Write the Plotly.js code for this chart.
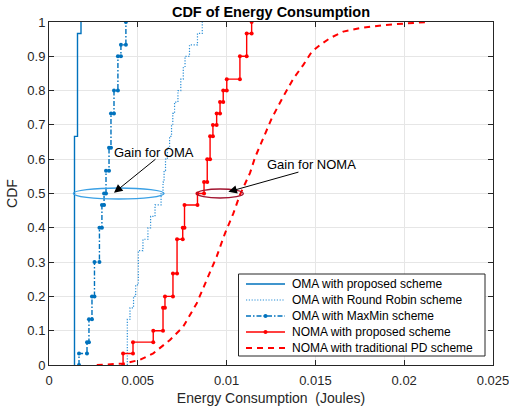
<!DOCTYPE html>
<html><head><meta charset="utf-8">
<script src="https://cdn.plot.ly/plotly-3.0.1.min.js"></script>
<style>html,body{margin:0;padding:0;background:#fff;}#chart{width:509px;height:411px;}</style>
</head><body><div id="chart"></div>
<script>
// ---- data ----
const nSamples = 30;
const seriesNames = ['OMA with proposed scheme','OMA with Round Robin scheme','OMA with MaxMin scheme','NOMA with proposed scheme','NOMA with traditional PD scheme'];
const omaPropX = [0.001436, 0.001605, 0.001802];
const omaPropN = [20, 29, 30];
const rrX = [0.00441,0.00456,0.00476,0.00488,0.00503,0.00529,0.00557,0.00572,0.00597,0.00631,0.00642,0.00648,0.00656,0.00667,0.00679,0.00690,0.00697,0.00707,0.00726,0.00742,0.00756,0.00766,0.00791,0.00836,0.00863];
const rrN = [4,5,6,7,10,11,12,13,14,15,16,17,18,19,20,21,22,23,24,25,26,27,28,29,30];
const mmX = [0.00169,0.00214,0.00225,0.00242,0.00256,0.00284,0.00298,0.00310,0.00321,0.00338,0.00349,0.00366,0.00388,0.00405,0.00433];
const mmN = [1,2,4,6,9,12,14,15,17,19,22,24,27,28,30];
const npX = [0.00417,0.00473,0.00587,0.00642,0.00653,0.00698,0.00721,0.00753,0.00763,0.00836,0.00873,0.00891,0.00907,0.00923,0.00944,0.00963,0.00981,0.01001,0.01075,0.01113,0.01141];
const npN = [1,2,3,5,6,8,11,12,14,15,16,18,20,21,22,23,24,25,27,29,30];
const pdX = [0.00269,0.00343,0.00418,0.00512,0.00587,0.00681,0.00756,0.00832,0.00888,0.00944,0.00991,0.01038,0.01075,0.01132,0.0116,0.01207,0.01254,0.01312,0.01376,0.01432,0.01479,0.01526,0.01582,0.01657,0.01751,0.01882,0.0200,0.02127];
const pdY = [0,0.002,0.004,0.015,0.034,0.073,0.112,0.18,0.248,0.316,0.384,0.442,0.496,0.56,0.605,0.662,0.719,0.776,0.835,0.875,0.913,0.933,0.953,0.972,0.982,0.991,0.996,1.0];
const xTicks = [0,0.005,0.01,0.015,0.02,0.025];
const xTickLabels = ['0','0.005','0.01','0.015','0.02','0.025'];
const yTicks = [0,0.1,0.2,0.3,0.4,0.5,0.6,0.7,0.8,0.9,1];
const yTickLabels = ['0','0.1','0.2','0.3','0.4','0.5','0.6','0.7','0.8','0.9','1'];

// build empirical-CDF staircase from jump positions and cumulative counts
function stairs(xs, counts){
  const X=[xs[0]], Y=[0];
  for(let i=0;i<xs.length;i++){
    const f=counts[i]/nSamples;
    X.push(xs[i]); Y.push(f);
    if(i+1<xs.length){ X.push(xs[i+1]); Y.push(f); }
  }
  return {x:X,y:Y};
}
const FONT='Liberation Sans, Arial, Helvetica, sans-serif';
const blue='#0072BD', red='#FF0000';
const styles=[
 {line:{color:blue,width:1.4},marker:false},
 {line:{color:'#2B8FD6',width:1.2,dash:'1.2px,1.6px'},marker:false},
 {line:{color:blue,width:1.4,dash:'5px,2px,1.5px,2px'},marker:true},
 {line:{color:red,width:1.4},marker:true},
 {line:{color:red,width:2,dash:'6px,5px'},marker:false}
];
const s1=stairs(omaPropX,omaPropN), s2=stairs(rrX,rrN), s3=stairs(mmX,mmN), s4=stairs(npX,npN);
const series=[s1,s2,s3,s4,{x:pdX,y:pdY}];
const traces=series.map((s,i)=>({x:s.x,y:s.y,mode:styles[i].marker?'lines+markers':'lines',name:seriesNames[i],
  line:styles[i].line,marker:{color:styles[i].line.color,size:4},showlegend:false}));

// custom legend box (paper coordinates of the plot area)
const W=444,H=343;
const legLeft=(238.5-49)/W, legRight=(485-49)/W, legTop=(365-274)/H, legBot=(365-356)/H;
const rowH=16/H, firstRow=(365-284)/H;
const sampX0=(246-49)/W, sampX1=(285-49)/W, textX=(290-49)/W;
const shapes=[
  {type:'circle',xref:'x',yref:'y',x0:0.00137,x1:0.00648,y0:0.484,y1:0.516,line:{color:'#3AA0E5',width:1.4}},
  {type:'circle',xref:'x',yref:'y',x0:0.00832,x1:0.01094,y0:0.487,y1:0.513,line:{color:'#A2142F',width:1.4}},
  {type:'rect',xref:'paper',yref:'paper',x0:legLeft,x1:legRight,y0:legBot,y1:legTop,fillcolor:'#fff',line:{color:'#262626',width:1}}
];
const annotations=[
  {x:0.00366,y:0.502,ax:0.00608,ay:0.6035,axref:'x',ayref:'y',xref:'x',yref:'y',text:'',showarrow:true,arrowhead:2,arrowsize:1.7,arrowwidth:1,arrowcolor:'#000'},
  {x:0.0101,y:0.505,ax:0.01413,ay:0.5636,axref:'x',ayref:'y',xref:'x',yref:'y',text:'',showarrow:true,arrowhead:2,arrowsize:1.7,arrowwidth:1,arrowcolor:'#000'},
  {x:0.00591,y:0.621,xref:'x',yref:'y',text:'Gain for OMA',showarrow:false,font:{size:13,color:'#000',family:FONT}},
  {x:0.01478,y:0.586,xref:'x',yref:'y',text:'Gain for NOMA',showarrow:false,font:{size:13,color:'#000',family:FONT}}
];
seriesNames.forEach((nm,i)=>{
  const yy=firstRow-i*rowH;
  shapes.push({type:'line',xref:'paper',yref:'paper',x0:sampX0,x1:sampX1,y0:yy,y1:yy,line:styles[i].line});
  if(styles[i].marker){
    const cx=(sampX0+sampX1)/2, rx=2/W, ry=2/H;
    shapes.push({type:'circle',xref:'paper',yref:'paper',x0:cx-rx,x1:cx+rx,y0:yy-ry,y1:yy+ry,fillcolor:styles[i].line.color,line:{width:0}});
  }
  annotations.push({x:textX,y:yy,xref:'paper',yref:'paper',xanchor:'left',yanchor:'middle',text:nm,showarrow:false,font:{size:12,color:'#000',family:FONT}});
});

const axisCommon={ticks:'inside',ticklen:5,tickcolor:'#262626',showline:true,linecolor:'#262626',linewidth:1,mirror:'ticks',
  showgrid:true,gridcolor:'#E6E6E6',gridwidth:1,zeroline:false,tickfont:{size:13,color:'#262626',family:FONT},automargin:false,ticklabeloverflow:'allow'};
const layout={
 width:509,height:411,margin:{l:49,r:16,t:22,b:46},paper_bgcolor:'#fff',plot_bgcolor:'#fff',
 font:{family:FONT,color:'#262626'},showlegend:false,
 title:{text:'<b>CDF of Energy Consumption</b>',font:{size:14.5,color:'#000',family:FONT},x:0.5,xref:'paper',xanchor:'center',y:1-12/411,yref:'container',yanchor:'middle'},
 xaxis:Object.assign({},axisCommon,{range:[0,0.025],tickvals:xTicks,ticktext:xTickLabels,ticklabelstandoff:3,title:{text:'Energy Consumption \u00a0(Joules)',font:{size:14,color:'#262626',family:FONT},standoff:6}}),
 yaxis:Object.assign({},axisCommon,{range:[0,1],tickvals:yTicks,ticktext:yTickLabels,title:{text:'CDF',font:{size:14,color:'#262626',family:FONT},standoff:6}}),
 shapes:shapes,annotations:annotations
};
Plotly.newPlot('chart',traces,layout,{displayModeBar:false,staticPlot:true});
</script></body></html>
